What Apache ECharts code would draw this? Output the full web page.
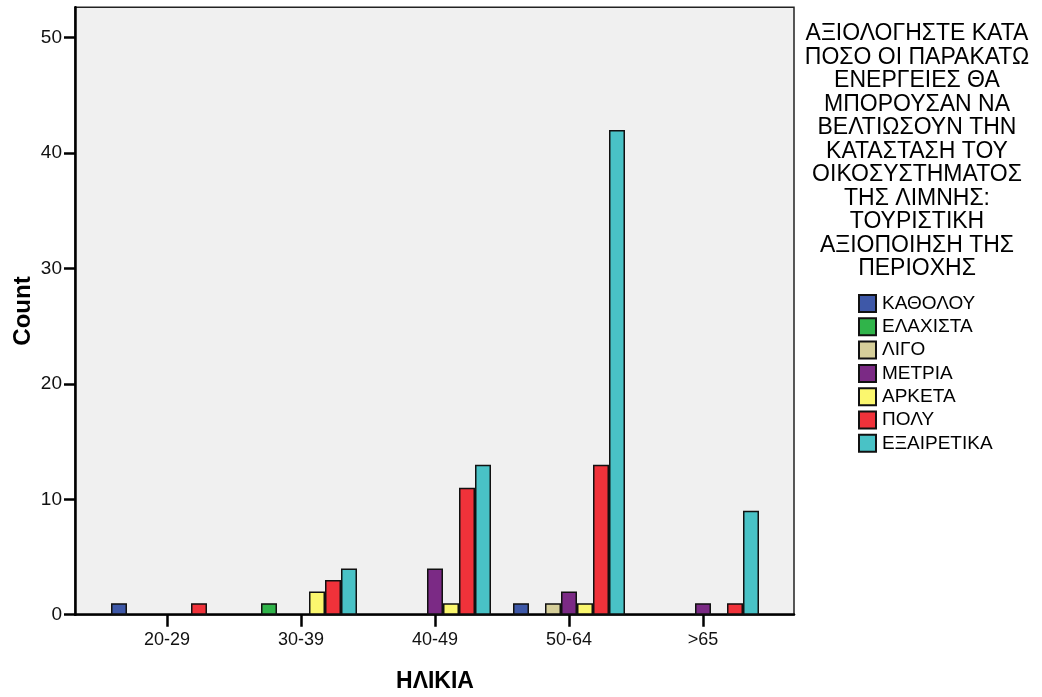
<!DOCTYPE html>
<html>
<head>
<meta charset="utf-8">
<script src="https://cdn.jsdelivr.net/npm/echarts@6/dist/echarts.min.js"></script>
<style>
html,body{margin:0;padding:0;background:#fff;}
#chart{width:1042px;height:697px;}
</style>
</head>
<body>
<div id="chart"></div>
<script>
var categories = ['20-29', '30-39', '40-49', '50-64', '>65'];
var seriesNames = ['ΚΑΘΟΛΟΥ', 'ΕΛΑΧΙΣΤΑ', 'ΛΙΓΟ', 'ΜΕΤΡΙΑ', 'ΑΡΚΕΤΑ', 'ΠΟΛΥ', 'ΕΞΑΙΡΕΤΙΚΑ'];
var katholou    = [1, null, null, 1, null];
var elaxista    = [null, 1, null, null, null];
var ligo        = [null, null, null, 1, null];
var metria      = [null, null, 4, 2, 1];
var arketa      = [null, 2, 1, 1, null];
var poly        = [1, 3, 11, 13, 1];
var exairetika  = [null, 4, 13, 42, 9];
var seriesValues = [katholou, elaxista, ligo, metria, arketa, poly, exairetika];
var colors = ['#3e58a8', '#30b44a', '#d6cf9a', '#7b2a85', '#fbf76e', '#f0323a', '#49c2c6'];
var yTicks = [0, 10, 20, 30, 40, 50];
var legendTitle = 'ΑΞΙΟΛΟΓΗΣΤΕ ΚΑΤΑ\nΠΟΣΟ ΟΙ ΠΑΡΑΚΑΤΩ\nΕΝΕΡΓΕΙΕΣ ΘΑ\nΜΠΟΡΟΥΣΑΝ ΝΑ\nΒΕΛΤΙΩΣΟΥΝ ΤΗΝ\nΚΑΤΑΣΤΑΣΗ ΤΟΥ\nΟΙΚΟΣΥΣΤΗΜΑΤΟΣ\nΤΗΣ ΛΙΜΝΗΣ:\nΤΟΥΡΙΣΤΙΚΗ\nΑΞΙΟΠΟΙΗΣΗ ΤΗΣ\nΠΕΡΙΟΧΗΣ';
var xTitle = 'ΗΛΙΚΙΑ';
var yTitle = 'Count';

var FONT = 'Liberation Sans, Arial, sans-serif';
var chart = echarts.init(document.getElementById('chart'), null, {renderer: 'canvas'});

var series = seriesNames.map(function (name, i) {
  return {
    name: name,
    type: 'bar',
    xAxisIndex: 1,
    yAxisIndex: 1,
    barWidth: 16,
    barGap: '0%',
    data: seriesValues[i],
    itemStyle: {color: colors[i], borderColor: '#111', borderWidth: 1.5},
    emphasis: {disabled: true},
    animation: false
  };
});

var option = {
  animation: false,
  textStyle: {fontFamily: FONT},
  grid: [
    {left: 75, right: 248, top: 7.3, bottom: 82.3, containLabel: false, outerBoundsMode: 'none', show: true, backgroundColor: '#f0f0f0', borderColor: '#222', borderWidth: 1.5},
    {left: 100, right: 272, top: 37.7, bottom: 82.3, containLabel: false, outerBoundsMode: 'none'}
  ],
  xAxis: [
    {gridIndex: 0, type: 'value', min: 0, max: 1, axisLine: {show: true, lineStyle: {color: '#000', width: 2.5}}, axisTick: {show: false}, axisLabel: {show: false}, splitLine: {show: false}},
    {gridIndex: 1, type: 'category', data: categories,
     axisLine: {show: false},
     axisTick: {show: true, alignWithLabel: true, length: 12, lineStyle: {color: '#000', width: 2.5}},
     axisLabel: {fontSize: 18, color: '#111', margin: 16, fontFamily: FONT},
     name: xTitle, nameLocation: 'middle', nameGap: 55,
     nameTextStyle: {fontSize: 23, fontWeight: 'bold', color: '#000', fontFamily: FONT}}
  ],
  yAxis: [
    {gridIndex: 0, type: 'value', min: 0, max: 52.63, axisLine: {show: true, lineStyle: {color: '#000', width: 2.5}}, axisTick: {show: false}, axisLabel: {show: false}, splitLine: {show: false},
     name: yTitle, nameLocation: 'middle', nameRotate: 90, nameGap: 40,
     nameTextStyle: {fontSize: 24, fontWeight: 'bold', color: '#000', fontFamily: FONT}},
    {gridIndex: 1, type: 'value', min: 0, max: 50, interval: 10, offset: 25,
     axisLine: {show: false},
     axisTick: {show: true, length: 11, lineStyle: {color: '#000', width: 2.5}},
     axisLabel: {fontSize: 19, color: '#111', margin: 13, fontFamily: FONT,
       formatter: function (v) { return yTicks.indexOf(v) >= 0 ? String(v) : ''; }},
     splitLine: {show: false}}
  ],
  legend: {
    orient: 'vertical',
    left: 858,
    top: 294,
    padding: 0,
    itemWidth: 17,
    itemHeight: 17,
    itemGap: 4.3,
    icon: 'rect',
    selectedMode: false,
    data: seriesNames,
    textStyle: {fontSize: 19, color: '#000', padding: [0, 0, 0, 1], lineHeight: 19, fontFamily: FONT}
  },
  graphic: [
    {type: 'text', x: 917, y: 22, silent: true,
     style: {text: legendTitle, align: 'center', verticalAlign: 'top', fontSize: 23, lineHeight: 23.5, fontFamily: FONT, fill: '#000'}}
  ],
  series: series
};
chart.setOption(option);
</script>
</body>
</html>
